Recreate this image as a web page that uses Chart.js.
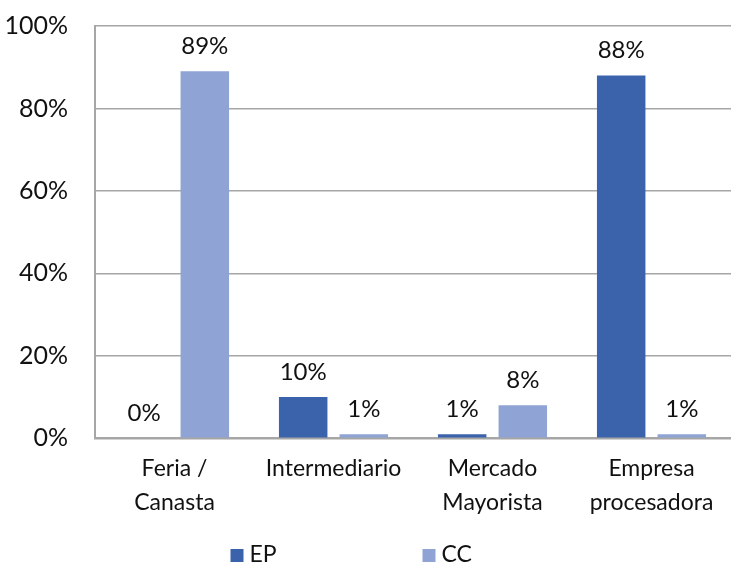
<!DOCTYPE html>
<html>
<head>
<meta charset="utf-8">
<script src="https://cdn.jsdelivr.net/npm/chart.js@4/dist/chart.umd.min.js"></script>
<style>
  html, body { margin: 0; padding: 0; background: #fff; }
  #wrap { width: 731px; height: 563px; position: relative; }
</style>
</head>
<body>
<div id="wrap"><canvas id="canalChart"></canvas></div>
<script>
// Canal de venta por tipo de productor
const categorias = [['Feria /', 'Canasta'], 'Intermediario', ['Mercado', 'Mayorista'], ['Empresa', 'procesadora']];
const valoresEP = [0, 10, 1, 88];
const valoresCC = [89, 1, 8, 1];
const series = ['EP', 'CC'];
const colores = ['#3B63AB', '#8FA4D5'];
const ticksY = [0, 20, 40, 60, 80, 100];

const FONT = 'Lato, "Noto Sans", sans-serif';
const TEXTO = '#111111';

// etiquetas de valor sobre cada barra
const etiquetasValor = {
  id: 'etiquetasValor',
  afterDatasetsDraw(chart) {
    const ctx = chart.ctx;
    ctx.save();
    ctx.font = '24px ' + FONT;
    ctx.fillStyle = TEXTO;
    ctx.textAlign = 'center';
    ctx.textBaseline = 'alphabetic';
    chart.data.datasets.forEach((ds, i) => {
      chart.getDatasetMeta(i).data.forEach((bar, j) => {
        ctx.fillText(ds.data[j] + '%', bar.x, bar.y - 17);
      });
    });
    ctx.restore();
  }
};

// leyenda inferior con separación amplia
const leyendaInferior = {
  id: 'leyendaInferior',
  afterDraw(chart) {
    const ctx = chart.ctx;
    ctx.save();
    ctx.font = '23px ' + FONT;
    ctx.textBaseline = 'middle';
    ctx.textAlign = 'left';
    const y = chart.height - 8;
    let x = chart.width / 2 - 135;
    chart.data.datasets.forEach(ds => {
      ctx.fillStyle = ds.backgroundColor;
      ctx.fillRect(x, y - 6, 13, 13);
      ctx.fillStyle = TEXTO;
      ctx.fillText(ds.label, x + 19, y);
      x += 192;
    });
    ctx.restore();
  }
};

new Chart(document.getElementById('canalChart'), {
  type: 'bar',
  data: {
    labels: categorias,
    datasets: [
      { label: series[0], data: valoresEP, backgroundColor: colores[0] },
      { label: series[1], data: valoresCC, backgroundColor: colores[1] }
    ]
  },
  options: {
    responsive: true,
    maintainAspectRatio: false,
    animation: false,
    layout: { padding: { top: 26, right: 0, bottom: 30, left: 0 } },
    datasets: { bar: { categoryPercentage: 0.7625, barPercentage: 0.8 } },
    plugins: {
      legend: { display: false },
      tooltip: { enabled: false }
    },
    scales: {
      x: {
        grid: { display: false, drawTicks: false },
        border: { color: '#a6a6a6', width: 2 },
        ticks: {
          color: TEXTO,
          font: { family: FONT, size: 23, lineHeight: 1.45 },
          padding: 14,
          maxRotation: 0,
          autoSkip: false
        }
      },
      y: {
        min: 0,
        max: 100,
        afterFit(scale) {
          scale.width = 95;
          scale.paddingTop = 0;
          scale.paddingBottom = 0;
        },
        afterBuildTicks(scale) { scale.ticks = ticksY.map(v => ({ value: v })); },
        grid: { color: '#a6a6a6', lineWidth: 1.5, drawTicks: false },
        border: { color: '#a6a6a6', width: 2 },
        ticks: {
          color: TEXTO,
          font: { family: FONT, size: 25 },
          padding: 27,
          callback: v => v + '%'
        }
      }
    }
  },
  plugins: [etiquetasValor, leyendaInferior]
});
</script>
</body>
</html>
